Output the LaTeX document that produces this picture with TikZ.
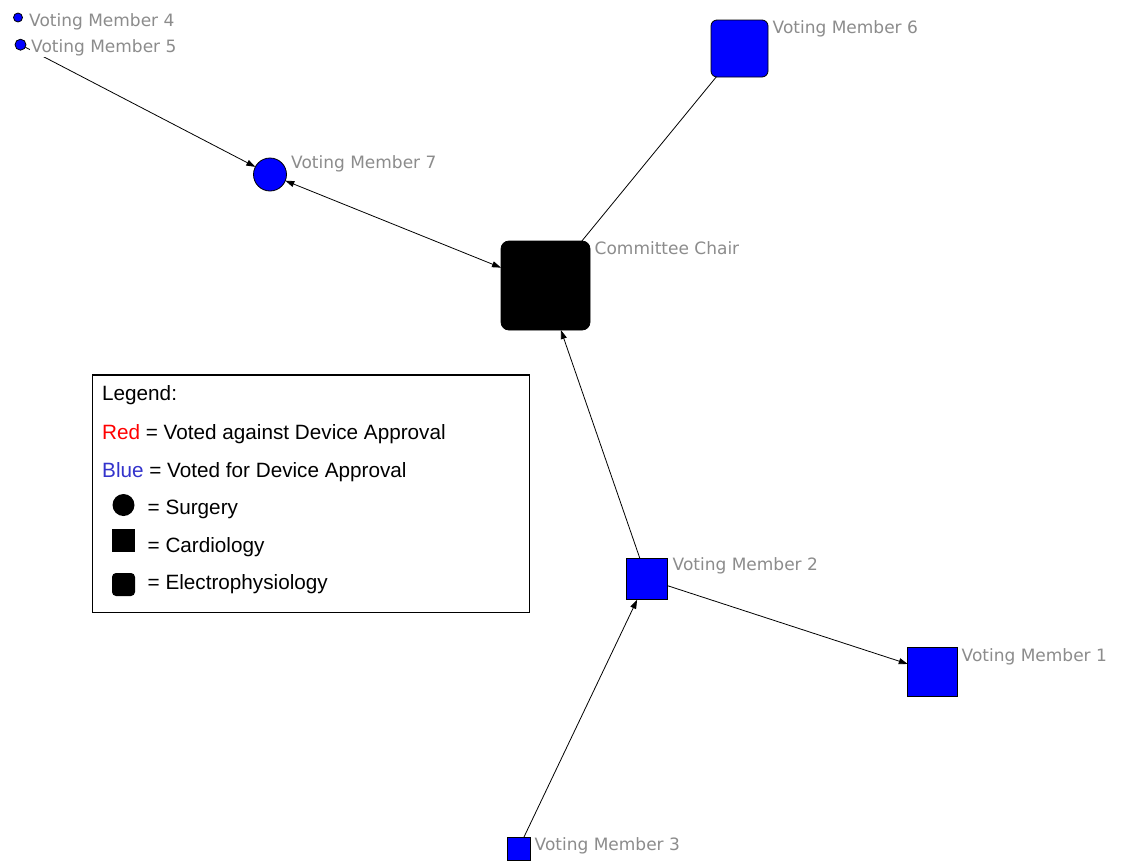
\documentclass[tikz,border=0pt]{standalone}
\usepackage{fontspec}
\setmainfont{Liberation Sans}
\newfontfamily\lblfont{DejaVu Sans}
\usetikzlibrary{arrows.meta}
\definecolor{vblue}{RGB}{0,0,255}
\definecolor{lgray}{RGB}{140,140,140}
\definecolor{legblue}{RGB}{51,51,204}
\begin{document}
\begin{tikzpicture}[x=1pt,y=-1pt,
  mem/.style={draw=black, fill=vblue, line width=0.8pt, inner sep=0pt, outer sep=0pt},
  circ/.style={mem, circle},
  sq/.style={mem, rectangle},
  rsq/.style={mem, rectangle, rounded corners=6pt},
  lbl/.style={anchor=base west, inner sep=1pt, fill=white, text=lgray, font=\lblfont\fontsize{17}{17}\selectfont},
  conn/.style={draw=black, line width=0.8pt},
  tip/.style={-{Triangle[length=9pt,width=6pt]}},
  biarrow/.style={{Triangle[length=9pt,width=6pt]}-{Triangle[length=9pt,width=6pt]}},
  legtext/.style={anchor=base west, inner sep=0pt, font=\fontsize{20.7}{20.7}\selectfont},
  legsym/.style={fill=black, inner sep=0pt, outer sep=0pt}
]
\fill[white] (0,0) rectangle (1123,860);
\useasboundingbox (0,0) rectangle (1123,860);

% members
\node[circ, minimum size=9pt] (vm4) at (18,17.5) {};
\node[circ, minimum size=11pt] (vm5) at (20.5,44.7) {};
\node[circ, minimum size=33pt] (vm7) at (270,174.5) {};
\node[mem, rectangle, rounded corners=8pt, fill=black, minimum size=89pt] (chair) at (545.5,285.5) {};
\node[rsq, minimum size=57pt] (vm6) at (739.5,48.5) {};
\node[sq, minimum size=41.5pt] (vm2) at (647,579) {};
\node[sq, minimum size=49.5pt] (vm1) at (932.5,672) {};
\node[sq, minimum size=23pt] (vm3) at (518.5,848.5) {};

% connectors
\draw[conn, tip] (vm5) -- (vm7);
\draw[conn, biarrow] (vm7) -- (chair);
\draw[conn] (vm6) -- (chair);
\draw[conn, tip] (vm2) -- (chair);
\draw[conn, tip] (vm2) -- (vm1);
\draw[conn, tip] (vm3) -- (vm2);

% labels
\node[lbl] (l4) at (28,26) {Voting Member 4};
\node[lbl] (l5) at (30,52) {Voting Member 5};
\node[lbl] (l7) at (290,168.5) {Voting Member 7};
\node[lbl] (lc) at (593.5,254) {Committee Chair};
\node[lbl] (l6) at (771.5,33.5) {Voting Member 6};
\node[lbl] (l2) at (671.5,570) {Voting Member 2};
\node[lbl] (l1) at (960.5,661) {Voting Member 1};
\node[lbl] (l3) at (533.5,850) {Voting Member 3};

% legend
\node[draw=black, line width=1.2pt, rectangle, minimum width=436.6pt, minimum height=237.7pt, inner sep=0pt] (legend) at (311,493.85) {};
\node[legtext] (lg0) at (102,400.5) {Legend:};
\node[legtext] (lg1) at (102,439) {\textcolor{red}{Red} = Voted against Device Approval};
\node[legtext] (lg2) at (102,477) {\textcolor{legblue}{Blue} = Voted for Device Approval};
\node[legsym, circle, minimum size=22pt] (symc) at (123.5,505) {};
\node[legtext] (lg3) at (147.5,514.5) {= Surgery};
\node[legsym, rectangle, minimum size=23pt] (syms) at (123.5,540.5) {};
\node[legtext] (lg4) at (147.5,552.5) {= Cardiology};
\node[legsym, rectangle, rounded corners=4pt, minimum size=23pt] (symr) at (123.5,584.5) {};
\node[legtext] (lg5) at (147.5,589.5) {= Electrophysiology};
\end{tikzpicture}
\end{document}
